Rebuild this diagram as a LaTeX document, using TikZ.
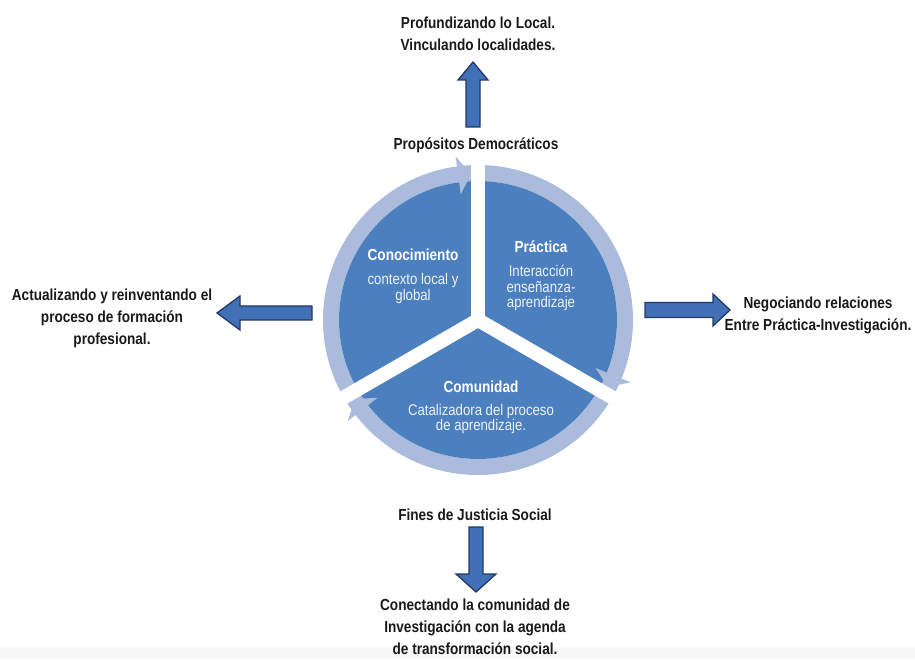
\documentclass[tikz,border=0pt]{standalone}
\usepackage{fontspec}
\newfontfamily\narrowfont{Liberation Sans}[FakeStretch=0.85]
\usetikzlibrary{calc}
\definecolor{pieblue}{RGB}{76,127,190}
\definecolor{ringblue}{RGB}{170,187,220}
\definecolor{arrowfill}{RGB}{66,112,182}
\definecolor{arrowline}{RGB}{32,58,104}
\definecolor{txt}{RGB}{25,25,25}
\newcommand{\blockarr}[7]{%
  \begin{scope}[shift={(#1,#2)}, rotate=#3]
    \draw[blockarrow] (0,-#5/2) -- ({#4-#7},-#5/2) -- ({#4-#7},-#6/2) -- (#4,0)
      -- ({#4-#7},#6/2) -- ({#4-#7},#5/2) -- (0,#5/2) -- cycle;
  \end{scope}}
\begin{document}
\begin{tikzpicture}[x=1pt,y=1pt,
  outtext/.style={font=\narrowfont\bfseries\fontsize{16}{22}\selectfont, text=txt, align=center, inner sep=0pt},
  pietitle/.style={font=\narrowfont\bfseries\fontsize{16}{18}\selectfont, text=white, align=center, inner sep=0pt},
  piebody/.style={font=\narrowfont\fontsize{15.5}{15.8}\selectfont, text=white!90!pieblue, align=center, inner sep=0pt},
  blockarrow/.style={fill=arrowfill, draw=arrowline, line width=1.3pt, line join=miter},
  ringhead/.style={fill=ringblue}]
\path[use as bounding box] (0,0) rectangle (915,659);
\fill[gray!6] (0,0) rectangle (915,12);

% cycle
\coordinate (C) at (478,339);
\draw[ringblue, line width=16pt] (C) circle[radius=147];
\fill[pieblue] (C) circle[radius=139];
\foreach \a in {90,210,330} \draw[white, line width=14pt] (C) -- ++(\a:160);
\begin{scope}[shift={(C)}]
  \foreach \g in {90,210,330}{
    \fill[ringhead] ({\g+2.7}:146) -- ({\g+7.8}:127) -- ({\g+7.8}:165) -- cycle;
  }
\end{scope}

% pie texts
\node[pietitle] (conT) at (413,404) {Conocimiento};
\node[piebody]  (conB) at (413,370.5) {contexto local y\\global};
\node[pietitle] (praT) at (541,412) {Práctica};
\node[piebody]  (praB) at (541,371) {Interacción\\enseñanza-\\aprendizaje};
\node[pietitle] (comT) at (481,272) {Comunidad};
\node[piebody]  (comB) at (481,240) {Catalizadora del proceso\\de aprendizaje.};

% outer texts
\node[outtext] (top)  at (478,625.5) {Profundizando lo Local.\\Vinculando localidades.};
\node[outtext] (prop) at (476,514) {Propósitos Democráticos};
\node[outtext] (fin)  at (475,144) {Fines de Justicia Social};
\node[outtext] (bot)  at (475,32) {Conectando la comunidad de\\Investigación con la agenda\\de transformación social.};
\node[outtext] (left) at (112,341) {Actualizando y reinventando el\\proceso de formación\\profesional.};
\node[outtext] (right) at (818,343.5) {Negociando relaciones\\Entre Práctica-Investigación.};

% block arrows
\blockarr{473}{532}{90}{65}{14}{30}{18}
\blockarr{476}{132}{-90}{65}{14}{40}{18}
\blockarr{312}{346}{180}{95}{14}{34}{23}
\blockarr{645}{349}{0}{85}{15}{32}{17}
\end{tikzpicture}
\end{document}
